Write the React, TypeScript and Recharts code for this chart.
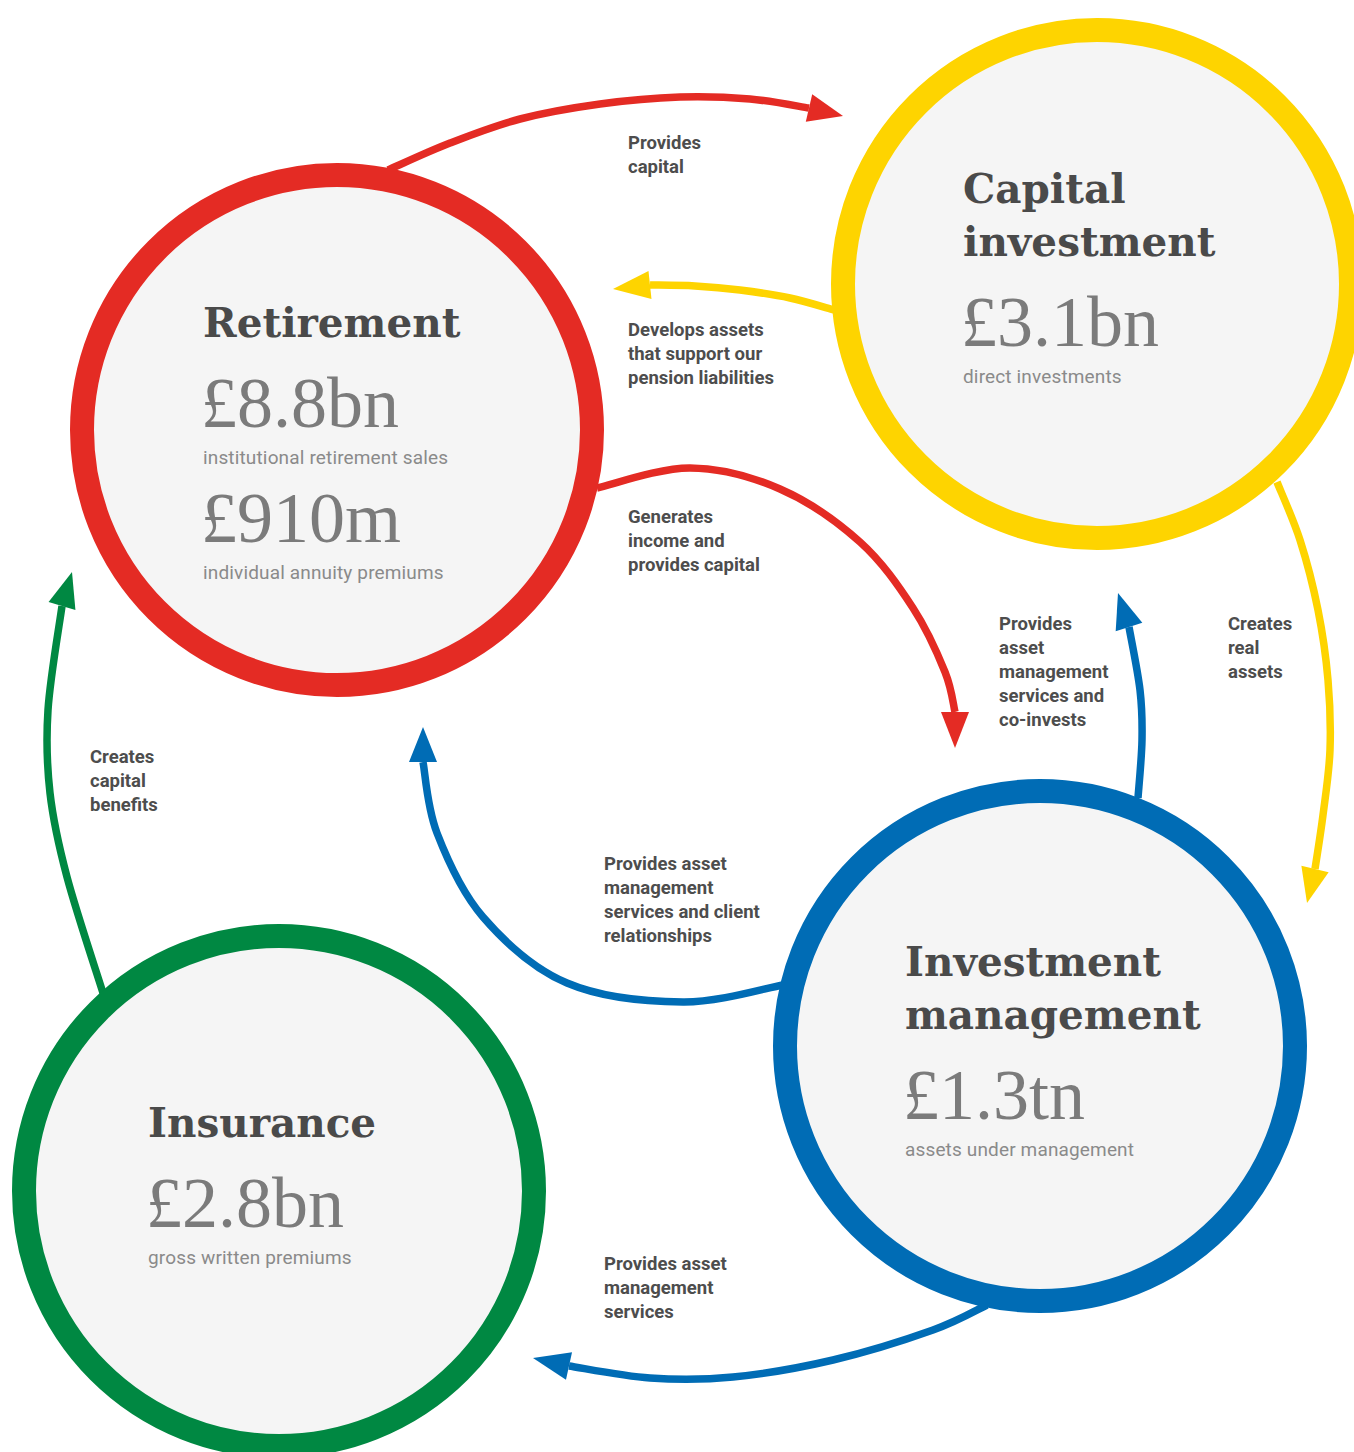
import React from "react";
import { ComposedChart, Line, Scatter, XAxis, YAxis } from "recharts";

const W = 1354;
const H = 1452;

// Four business circles (centre + outer radius, in page pixels)
const circles = [
  { name: "Retirement", x: 337, y: 430, r: 267, color: "#e42b24" },
  { name: "Capital investment", x: 1097, y: 284, r: 266, color: "#fed400" },
  { name: "Investment management", x: 1040, y: 1046, r: 267, color: "#006cb5" },
  { name: "Insurance", x: 279, y: 1191, r: 267, color: "#008842" },
];

const circleTitles = [["Retirement"], ["Capital", "investment"], ["Investment", "management"], ["Insurance"]];
const circleValues = [
  [
    { v: "£8.8bn", s: "institutional retirement sales" },
    { v: "£910m", s: "individual annuity premiums" },
  ],
  [{ v: "£3.1bn", s: "direct investments" }],
  [{ v: "£1.3tn", s: "assets under management" }],
  [{ v: "£2.8bn", s: "gross written premiums" }],
];
// text anchor (left x, first title baseline) per circle
const textAnchors = [
  { x: 203, y: 337 },
  { x: 963, y: 203 },
  { x: 905, y: 976 },
  { x: 148, y: 1137 },
];

// Flow arrows: points along each curve, ending at the arrowhead base
const arcRedTop = [
  { x: 388, y: 170 }, { x: 450, y: 143 }, { x: 520, y: 119 }, { x: 600, y: 104 },
  { x: 680, y: 97 }, { x: 750, y: 99 }, { x: 809, y: 108 },
];
const arcYellowTop = [
  { x: 834, y: 310 }, { x: 790, y: 298 }, { x: 740, y: 290 }, { x: 695, y: 286 }, { x: 650, y: 285 },
];
const arcRedMid = [
  { x: 597, y: 488 }, { x: 690, y: 468 }, { x: 780, y: 489 }, { x: 860, y: 542 },
  { x: 913, y: 608 }, { x: 945, y: 672 }, { x: 955, y: 712 },
];
const arcBlueUp = [
  { x: 1138, y: 798 }, { x: 1142, y: 740 }, { x: 1140, y: 690 }, { x: 1129, y: 627 },
];
const arcYellowRight = [
  { x: 1277, y: 482 }, { x: 1300, y: 540 }, { x: 1318, y: 610 }, { x: 1328, y: 680 },
  { x: 1330, y: 750 }, { x: 1323, y: 815 }, { x: 1315, y: 869 },
];
const arcBlueLeft = [
  { x: 783, y: 985 }, { x: 683, y: 1002 }, { x: 567, y: 983 }, { x: 483, y: 917 },
  { x: 437, y: 833 }, { x: 423, y: 762 },
];
const arcGreen = [
  { x: 103, y: 993 }, { x: 67, y: 877 }, { x: 50, y: 793 }, { x: 48, y: 710 }, { x: 62, y: 606 },
];
const arcBlueBottom = [
  { x: 987, y: 1305 }, { x: 933, y: 1330 }, { x: 833, y: 1360 }, { x: 733, y: 1377 },
  { x: 650, y: 1378 }, { x: 569, y: 1366 },
];

const arcs = [
  { pts: arcRedTop, color: "#e42b24" },
  { pts: arcYellowTop, color: "#fed400" },
  { pts: arcRedMid, color: "#e42b24" },
  { pts: arcBlueUp, color: "#006cb5" },
  { pts: arcYellowRight, color: "#fed400" },
  { pts: arcBlueLeft, color: "#006cb5" },
  { pts: arcGreen, color: "#008842" },
  { pts: arcBlueBottom, color: "#006cb5" },
];

// Arrowheads: base centre (x,y) and tip (tx,ty)
const arrowHeads = [
  { x: 809, y: 108, tx: 843, ty: 116, color: "#e42b24" },
  { x: 650, y: 285, tx: 613, ty: 289, color: "#fed400" },
  { x: 955, y: 712, tx: 955, ty: 748, color: "#e42b24" },
  { x: 1129, y: 627, tx: 1118, ty: 593, color: "#006cb5" },
  { x: 1315, y: 869, tx: 1307, ty: 903, color: "#fed400" },
  { x: 423, y: 762, tx: 423, ty: 727, color: "#006cb5" },
  { x: 62, y: 606, tx: 72, ty: 572, color: "#008842" },
  { x: 569, y: 1366, tx: 533, ty: 1358, color: "#006cb5" },
];

// Flow labels (left x, baseline of first line)
const flowLabels = [
  { x: 628, y: 149, lines: ["Provides", "capital"] },
  { x: 628, y: 336, lines: ["Develops assets", "that support our", "pension liabilities"] },
  { x: 628, y: 523, lines: ["Generates", "income and", "provides capital"] },
  { x: 999, y: 630, lines: ["Provides", "asset", "management", "services and", "co-invests"] },
  { x: 1228, y: 630, lines: ["Creates", "real", "assets"] },
  { x: 90, y: 763, lines: ["Creates", "capital", "benefits"] },
  { x: 604, y: 870, lines: ["Provides asset", "management", "services and client", "relationships"] },
  { x: 604, y: 1270, lines: ["Provides asset", "management", "services"] },
];

const RING = 24;

// smooth curve through the given points (Catmull-Rom as cubic Béziers)
const smoothCurve: any = (context: any) => {
  let pts: number[][] = [];
  return {
    areaStart() {},
    areaEnd() {},
    lineStart() {
      pts = [];
    },
    point(x: number, y: number) {
      pts.push([x, y]);
    },
    lineEnd() {
      if (!pts.length) return;
      context.moveTo(pts[0][0], pts[0][1]);
      for (let i = 0; i < pts.length - 1; i++) {
        const p0 = pts[i - 1] || pts[i];
        const p1 = pts[i];
        const p2 = pts[i + 1];
        const p3 = pts[i + 2] || p2;
        context.bezierCurveTo(
          p1[0] + (p2[0] - p0[0]) / 6,
          p1[1] + (p2[1] - p0[1]) / 6,
          p2[0] - (p3[0] - p1[0]) / 6,
          p2[1] - (p3[1] - p1[1]) / 6,
          p2[0],
          p2[1]
        );
      }
    },
  };
};

const CircleShape = (props: any) => {
  const { cx, cy, payload, index } = props;
  const i = circles.findIndex((c) => c.name === payload.name);
  const idx = i >= 0 ? i : index;
  const anchor = textAnchors[idx];
  const titles = circleTitles[idx];
  const vals = circleValues[idx];
  const titleBase = anchor.y;
  const lastTitle = titleBase + (titles.length - 1) * 53;
  let y = lastTitle;
  const elems: any[] = [];
  vals.forEach((v, k) => {
    y += k === 0 ? 90 : 78;
    elems.push(
      <text key={"v" + k} x={anchor.x - 2} y={y} fontFamily="'Liberation Serif', serif" fontSize={72} fill="#7b7b7b">
        {v.v}
      </text>
    );
    y += 37;
    elems.push(
      <text key={"s" + k} x={anchor.x} y={y} fontFamily="Roboto, sans-serif" fontSize={19} letterSpacing={0.15} fill="#8a8a8a">
        {v.s}
      </text>
    );
  });
  return (
    <g>
      <circle cx={cx} cy={cy} r={payload.r - RING / 2} fill="#f5f5f5" stroke={payload.color} strokeWidth={RING} />
      {titles.map((t, k) => (
        <text key={"t" + k} x={anchor.x} y={titleBase + k * 53} fontFamily="'DejaVu Serif', serif" fontWeight={700} fontSize={40.5} fill="#4a4a4a">
          {t}
        </text>
      ))}
      {elems}
    </g>
  );
};

const HeadShape = (props: any) => {
  const { cx, cy, payload } = props;
  const dx = payload.tx - payload.x;
  const dy = payload.ty - payload.y;
  const len = Math.sqrt(dx * dx + dy * dy);
  const ux = dx / len;
  const uy = dy / len;
  const hw = 14;
  const tipX = cx + dx;
  const tipY = cy + dy;
  const b1x = cx - uy * hw;
  const b1y = cy + ux * hw;
  const b2x = cx + uy * hw;
  const b2y = cy - ux * hw;
  return <polygon points={`${tipX},${tipY} ${b1x},${b1y} ${b2x},${b2y}`} fill={payload.color} />;
};

const LabelShape = (props: any) => {
  const { cx, cy, payload } = props;
  return (
    <text x={cx} y={cy} fontFamily="Roboto, sans-serif" fontWeight={700} fontSize={18.5} fill="#4d4d4d">
      {payload.lines.map((l: string, k: number) => (
        <tspan key={k} x={cx} y={cy + k * 24}>
          {l}
        </tspan>
      ))}
    </text>
  );
};

export default function App() {
  return (
    <div style={{ position: "absolute", left: 0, top: 0, width: W, height: H, background: "#fff" }}>
      <ComposedChart width={W} height={H} margin={{ top: 0, right: 0, bottom: 0, left: 0 }}>
        <XAxis type="number" dataKey="x" domain={[0, W]} hide allowDataOverflow />
        <YAxis type="number" dataKey="y" domain={[0, H]} reversed hide allowDataOverflow />
        {arcs.map((a, i) => (
          <Line
            key={"arc" + i}
            data={a.pts}
            dataKey="y"
            type={smoothCurve}
            stroke={a.color}
            strokeWidth={7.5}
            dot={false}
            activeDot={false}
            isAnimationActive={false}
          />
        ))}
        <Scatter data={arrowHeads} dataKey="y" shape={HeadShape} isAnimationActive={false} />
        <Scatter data={circles} dataKey="y" shape={CircleShape} isAnimationActive={false} />
        <Scatter data={flowLabels} dataKey="y" shape={LabelShape} isAnimationActive={false} />
      </ComposedChart>
    </div>
  );
}
